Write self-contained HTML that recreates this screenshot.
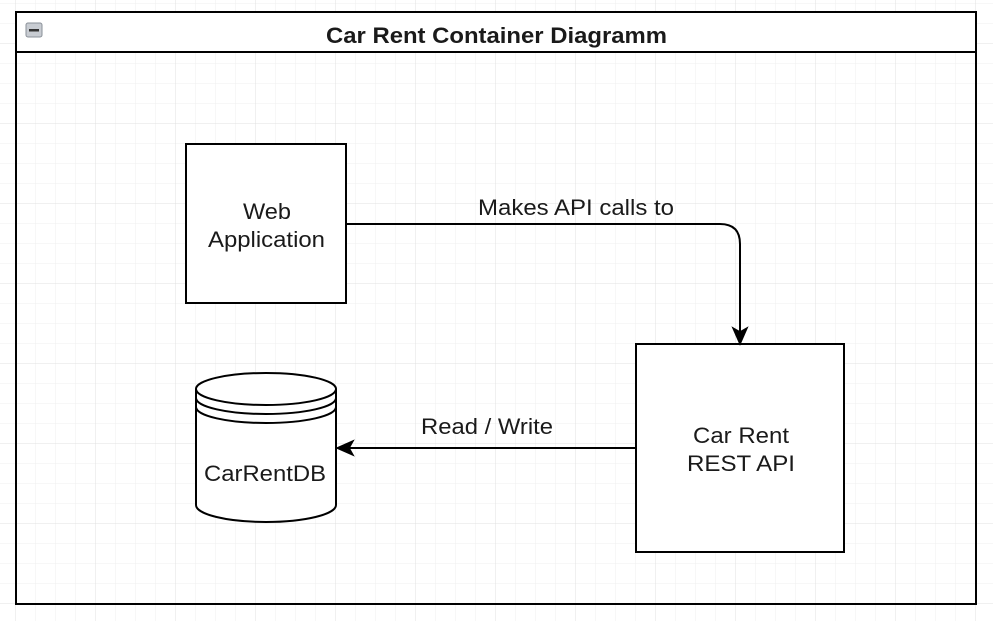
<!DOCTYPE html>
<html><head><meta charset="utf-8"><style>
html,body{margin:0;padding:0;width:993px;height:621px;overflow:hidden;background:#fff;}
svg{display:block}
text{font-family:"Liberation Sans",Arial,sans-serif;fill:#1a1a1a}
</style></head><body>
<svg width="993" height="621" viewBox="0 0 993 621">
<defs>
<pattern id="minor" x="15" y="3" width="20" height="20" patternUnits="userSpaceOnUse">
<path d="M0 0H20M0 0V20" stroke="#efefef" stroke-width="1" fill="none"/></pattern>
<pattern id="major" x="15" y="43" width="80" height="80" patternUnits="userSpaceOnUse">
<path d="M0 0H80M0 0V80" stroke="#e0e0e0" stroke-width="1" fill="none"/></pattern>
</defs>
<rect width="993" height="621" fill="url(#minor)"/>
<rect width="993" height="621" fill="url(#major)"/>
<rect x="16" y="12" width="960" height="592" fill="none" stroke="#000" stroke-width="2"/>
<rect x="16" y="12" width="960" height="40" fill="#fff" stroke="#000" stroke-width="2"/>
<rect x="26" y="23" width="16" height="14" rx="2" fill="#c8ccd2" stroke="#8a9098"/>
<rect x="29" y="29" width="10" height="2.5" fill="#333"/>
<text x="326" y="43" font-size="22" font-weight="bold" textLength="341" lengthAdjust="spacingAndGlyphs">Car Rent Container Diagramm</text>
<rect x="186" y="144" width="160" height="159" fill="#fff" stroke="#000" stroke-width="2"/>
<text x="243" y="219" font-size="22" textLength="48" lengthAdjust="spacingAndGlyphs">Web</text>
<text x="208" y="247" font-size="22" textLength="117" lengthAdjust="spacingAndGlyphs">Application</text>
<rect x="636" y="344" width="208" height="208" fill="#fff" stroke="#000" stroke-width="2"/>
<text x="693" y="443" font-size="22" textLength="96" lengthAdjust="spacingAndGlyphs">Car Rent</text>
<text x="687" y="471" font-size="22" textLength="108" lengthAdjust="spacingAndGlyphs">REST API</text>
<path d="M196 389 V505 A70 17 0 0 0 336 505 V389" fill="#fff" stroke="#000" stroke-width="2"/>
<ellipse cx="266" cy="389" rx="70" ry="16" fill="#fff" stroke="#000" stroke-width="2"/>
<path d="M196 398 A70 16 0 0 0 336 398" fill="none" stroke="#000" stroke-width="2"/>
<path d="M196 407 A70 16 0 0 0 336 407" fill="none" stroke="#000" stroke-width="2"/>
<text x="204" y="481" font-size="22" textLength="122" lengthAdjust="spacingAndGlyphs">CarRentDB</text>
<path d="M346 224 H720 Q740 224 740 244 V334" fill="none" stroke="#000" stroke-width="2"/>
<path d="M740 344 L733 328 L740 332 L747 328 Z" fill="#000" stroke="#000" stroke-width="1.5"/>
<text x="478" y="215" font-size="22" textLength="196" lengthAdjust="spacingAndGlyphs">Makes API calls to</text>
<path d="M636 448 H346" fill="none" stroke="#000" stroke-width="2"/>
<path d="M337 448 L353 441 L349 448 L353 455 Z" fill="#000" stroke="#000" stroke-width="1.5"/>
<text x="421" y="434" font-size="22" textLength="132" lengthAdjust="spacingAndGlyphs">Read / Write</text>
</svg>
</body></html>
